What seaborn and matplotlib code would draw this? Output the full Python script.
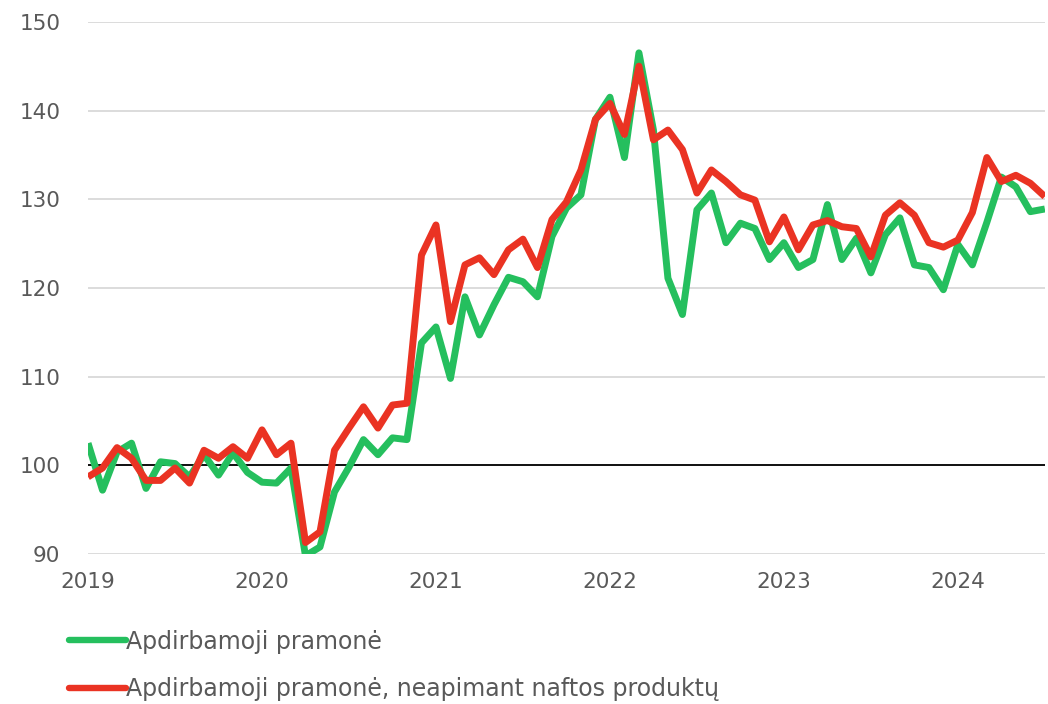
import numpy as np
import pandas as pd
import matplotlib
matplotlib.use("Agg")
import matplotlib.pyplot as plt
import seaborn as sns

# Monthly index values, Jan 2019 .. Jul 2024
years = ["2019", "2020", "2021", "2022", "2023", "2024"]
series_names = [
    "Apdirbamoji pramonė",
    "Apdirbamoji pramonė, neapimant naftos produktų",
]
manufacturing = [
    102.5, 97.2, 101.5, 102.5, 97.4, 100.4, 100.2, 98.7, 101.2, 98.9, 101.4, 99.2,
    98.1, 98.0, 99.7, 89.8, 90.8, 97.0, 99.8, 102.9, 101.2, 103.1, 102.9, 113.8,
    115.6, 109.8, 119.0, 114.7, 118.1, 121.2, 120.7, 119.0, 125.8, 129.0, 130.5, 139.0,
    141.5, 134.7, 146.5, 137.8, 121.1, 117.0, 128.8, 130.7, 125.1, 127.3, 126.7, 123.2,
    125.1, 122.3, 123.2, 129.4, 123.2, 125.6, 121.7, 126.0, 127.9, 122.6, 122.3, 119.8,
    124.9, 122.6, 127.4, 132.5, 131.4, 128.6, 128.9,
]
manufacturing_ex_oil = [
    98.7, 99.7, 102.0, 100.8, 98.3, 98.3, 99.7, 98.0, 101.7, 100.8, 102.1, 100.8,
    104.0, 101.2, 102.5, 91.3, 92.5, 101.7, 104.2, 106.6, 104.2, 106.8, 107.0, 123.7,
    127.1, 116.2, 122.6, 123.4, 121.5, 124.3, 125.5, 122.3, 127.7, 129.7, 133.3, 139.0,
    140.8, 137.3, 145.0, 136.7, 137.8, 135.6, 130.7, 133.3, 132.0, 130.5, 129.9, 125.2,
    128.0, 124.3, 127.1, 127.6, 126.9, 126.7, 123.5, 128.2, 129.6, 128.2, 125.1, 124.6,
    125.4, 128.5, 134.7, 132.0, 132.7, 131.8, 130.3,
]

colors = ["#25BF5E", "#EA3323"]

month = np.arange(len(manufacturing))
df = pd.DataFrame({
    "month": np.concatenate([month, month]),
    "value": manufacturing + manufacturing_ex_oil,
    "series": [series_names[0]] * len(month) + [series_names[1]] * len(month),
})

sns.set_style("white")
plt.rcParams["font.family"] = ["DejaVu Sans"]

fig = plt.figure(figsize=(10.48, 7.04), dpi=100)
ax = fig.add_axes([0.084, 0.213, 0.913, 0.756])

sns.lineplot(
    data=df, x="month", y="value", hue="series",
    palette=colors, linewidth=5.0, ax=ax, legend=False,
    solid_capstyle="butt",
)

ax.axhline(100, color="black", lw=1.3, zorder=1)
ax.set_ylim(90, 150)
ax.set_xlim(0, len(month) - 1)
ax.set_yticks(range(90, 151, 10))
ax.set_xticks(np.arange(len(years)) * 12)
ax.set_xticklabels(years)
ax.yaxis.grid(True, color="#d9d9d9", lw=1.3)
ax.set_axisbelow(True)
for s in ax.spines.values():
    s.set_visible(False)
ax.tick_params(axis="both", length=0, labelsize=15.5, labelcolor="#595959")
ax.tick_params(axis="x", pad=13)
ax.tick_params(axis="y", pad=20)
ax.set_xlabel("")
ax.set_ylabel("")

handles = [plt.Line2D([], [], color=c, lw=4.6, solid_capstyle="round") for c in colors]
fig.legend(
    handles, series_names, loc="lower left", bbox_to_anchor=(0.066, 0.004),
    frameon=False, fontsize=17, labelcolor="#595959", handlelength=2.4,
    handletextpad=0.0, labelspacing=1.0, borderpad=0, borderaxespad=0,
)

fig.savefig("out.png", dpi=100)
